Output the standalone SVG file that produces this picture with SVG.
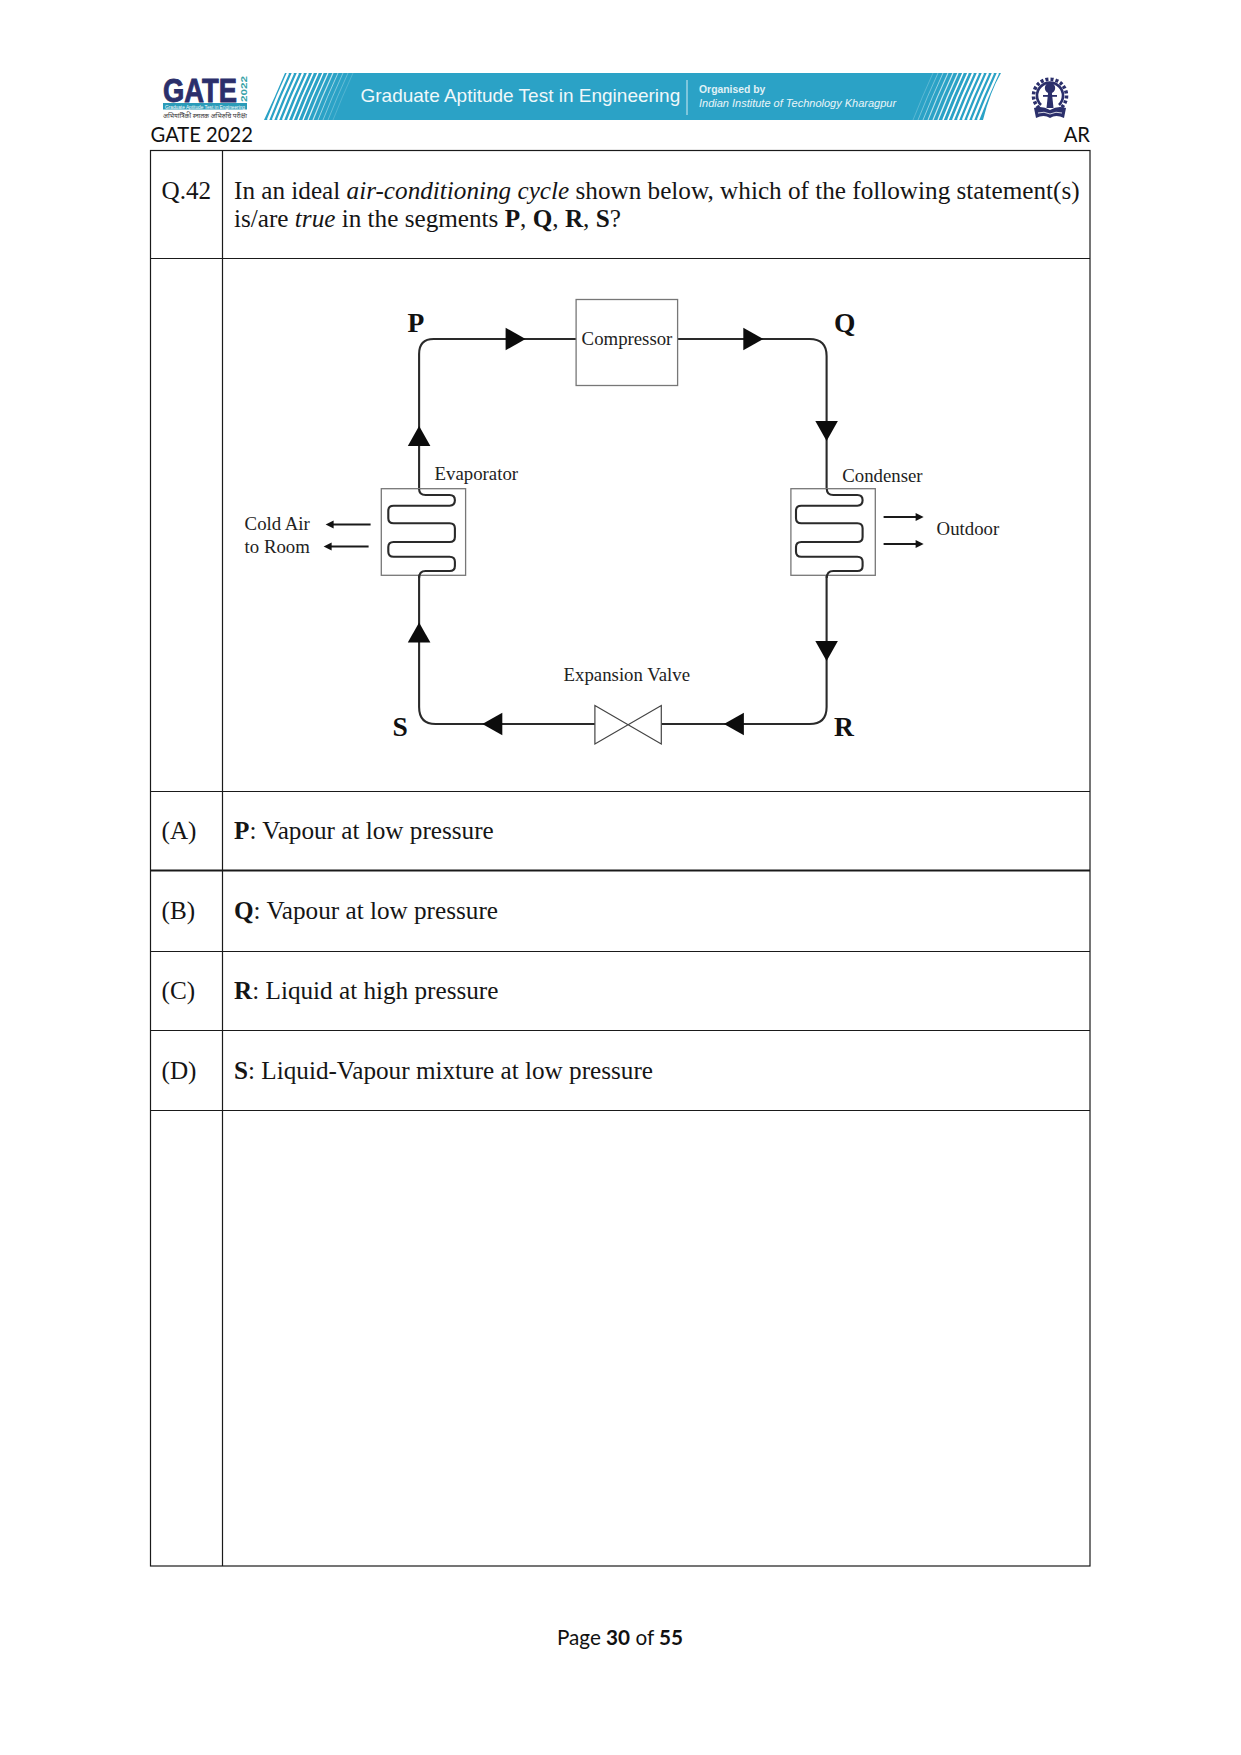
<svg xmlns="http://www.w3.org/2000/svg" width="1241" height="1755" viewBox="0 0 1241 1755">
<style>
text{font-family:"Liberation Serif","Times New Roman",serif;fill:#151515}
.q{font-size:25.2px}
.d{font-size:18.8px;fill:#222}
.l{font-size:27.5px;font-weight:bold;fill:#111}
.c{font-family:Lato,"Open Sans",sans-serif;fill:#111}
.b{font-weight:bold}
.i{font-style:italic}
text.ba{font-family:"Liberation Sans",Arial,sans-serif;fill:#fff}
text.gate{font-family:"Liberation Sans",Arial,sans-serif;font-weight:bold;fill:#2b2f6b;stroke:#2b2f6b;stroke-width:.9}
text.yr{font-family:"Liberation Sans",Arial,sans-serif;font-weight:bold;fill:#37a3a8}
text.hi{font-family:"Noto Sans","DejaVu Sans",sans-serif;fill:#333}
.grid{stroke:#1a1a1a;stroke-width:1.2;fill:none}
.pipe{fill:none;stroke:#2a2a2a;stroke-width:2.1}
.box{fill:#fff;stroke:#777;stroke-width:1.3}
.air{fill:none;stroke:#1a1a1a;stroke-width:2.2}
.st{fill:none;stroke:#fff}
.nv{fill:#2b2f6b}
</style>
<defs>
<polygon id="tri" points="-10,-11.3 10,0 -10,11.3" fill="#0c0c0c"/>
<polygon id="tip" points="-8,-4 0,0 -8,4" fill="#111"/>
<path id="coil" class="pipe" d="M418.5 489q0 6 6.5 6H449q5.3 0 5.3 5.3t-5.3 5.4H393q-5.3 0-5.3 5v7.6q0 5 5.3 5H449q5.3 0 5.3 5v8.7q0 5-5.3 5H393q-5.3 0-5.3 5v4.7q0 5 5.3 5H449q5.3 0 5.3 5v4.3q0 5-5.3 5H425q-6.5 0-6.5 7"/>
</defs>
<rect width="1241" height="1755" fill="#fff"/>

<g id="banner">
<path d="M285 73H1001Q990 92 983 120H264Q275 97 285 73Z" fill="#2ba2c6"/>
<g class="st">
<path d="M288 73Q277 97 268 120" stroke-width="2.4"/>
<path d="M293 73Q282 97 273 120" stroke-width="2.4"/>
<path d="M298 73Q287 97 278 120" stroke-width="2.2"/>
<path d="M303 73Q292 97 283 120" stroke-width="2.2"/>
<path d="M308 73Q297 97 288 120" stroke-width="2"/>
<path d="M313 73Q302 97 293 120" stroke-width="1.8"/>
<path d="M318 73Q307 97 298 120" stroke-width="1.6"/>
<path d="M323 73Q312 97 303 120" stroke-width="1.4"/>
<path d="M328 73Q317 97 308 120" stroke-width="1.3" opacity=".85"/>
<path d="M333 73Q322 97 313 120" stroke-width="1.2" opacity=".7"/>
<path d="M338 73Q327 97 318 120" stroke-width="1" opacity=".55"/>
<path d="M343 73Q332 97 323 120" stroke-width="1" opacity=".4"/>
<path d="M348 73Q337 97 328 120" stroke-width="1" opacity=".28"/>
<path d="M353 73Q342 97 333 120" stroke-width="1" opacity=".18"/>
<path d="M933 73Q922 97 913 120" stroke-width="1" opacity=".22"/>
<path d="M938 73Q927 97 918 120" stroke-width="1" opacity=".35"/>
<path d="M943 73Q932 97 923 120" stroke-width="1" opacity=".5"/>
<path d="M948 73Q937 97 928 120" stroke-width="1.1" opacity=".65"/>
<path d="M953 73Q942 97 933 120" stroke-width="1.2" opacity=".75"/>
<path d="M958 73Q947 97 938 120" stroke-width="1.4" opacity=".85"/>
<path d="M963 73Q952 97 943 120" stroke-width="1.6"/>
<path d="M968 73Q957 97 948 120" stroke-width="1.8"/>
<path d="M973 73Q962 97 953 120" stroke-width="2"/>
<path d="M978 73Q967 97 958 120" stroke-width="2.2"/>
<path d="M983 73Q972 97 963 120" stroke-width="2.3"/>
<path d="M988 73Q977 97 968 120" stroke-width="2.3"/>
<path d="M993 73Q982 97 973 120" stroke-width="2.3"/>
<path d="M998 73Q987 97 978 120" stroke-width="2.3"/>
</g>
<text class="ba" x="360.5" y="102" font-size="19" opacity=".93">Graduate Aptitude Test in Engineering</text>
<line x1="687" y1="80" x2="687" y2="115" stroke="#fff" stroke-width="1" opacity=".8"/>
<text class="ba" x="699" y="92.5" font-size="10.4" font-weight="bold" opacity=".85">Organised by</text>
<text class="ba i" x="699" y="106.5" font-size="11" opacity=".9">Indian Institute of Technology Kharagpur</text>
</g>

<g id="gate-logo">
<text class="gate" x="163" y="102" font-size="34" textLength="74" lengthAdjust="spacingAndGlyphs">GATE</text>
<text class="yr" transform="translate(247 102) rotate(-90)" font-size="9.5" textLength="26" lengthAdjust="spacingAndGlyphs">2022</text>
<rect x="163" y="103" width="84" height="6.5" fill="#2a9bb8"/>
<text class="ba" x="165" y="108.5" font-size="6" textLength="80" lengthAdjust="spacingAndGlyphs">Graduate Aptitude Test in Engineering</text>
<text class="hi" x="163" y="118" font-size="6.5" textLength="84" lengthAdjust="spacingAndGlyphs">अभियांत्रिकी स्नातक अभिरुचि परीक्षा</text>
</g>

<g id="iit-logo">
<path d="M1039 108A16.5 16.5 0 1 1 1061 108" fill="none" stroke="#2b2f6b" stroke-width="3.6" stroke-dasharray="3 2"/>
<path d="M1041 105A13 13 0 1 1 1059 105" fill="none" stroke="#2b2f6b" stroke-width="2.6"/>
<circle class="nv" cx="1050" cy="88" r="5.2"/>
<path class="nv" d="M1048.6 88H1051.4L1053.5 108H1046.5Z"/>
<path class="nv" d="M1043 95H1057V96.8H1043Z"/>
<path class="nv" d="M1034 108Q1042 105 1050 110Q1058 105 1066 108L1064 118Q1056 114 1050 118Q1044 114 1036 118Z"/>
<path d="M1038 113Q1044 111 1050 114Q1056 111 1062 113" fill="none" stroke="#fff" stroke-width=".8"/>
</g>

<g id="page-header">
<text class="c" font-size="20.2" x="150.5" y="142">GATE 2022</text>
<text class="c" font-size="20.2" x="1090" y="142" text-anchor="end">AR</text>
</g>

<g id="table">
<rect class="grid" x="150.5" y="150.5" width="939.5" height="1415.5"/>
<line class="grid" x1="222.5" y1="150.5" x2="222.5" y2="1566"/>
<line class="grid" x1="150.5" y1="258.5" x2="1090" y2="258.5"/>
<line class="grid" x1="150.5" y1="791.5" x2="1090" y2="791.5"/>
<line class="grid" x1="150.5" y1="870.5" x2="1090" y2="870.5" style="stroke-width:2"/>
<line class="grid" x1="150.5" y1="951.5" x2="1090" y2="951.5"/>
<line class="grid" x1="150.5" y1="1030.5" x2="1090" y2="1030.5"/>
<line class="grid" x1="150.5" y1="1110.5" x2="1090" y2="1110.5"/>
</g>

<g id="question">
<text class="q" x="161.5" y="199">Q.42</text>
<text class="q" x="234" y="199">In an ideal <tspan class="i">air-conditioning cycle</tspan> shown below, which of the following statement(s)</text>
<text class="q" x="234" y="227">is/are <tspan class="i">true</tspan> in the segments <tspan class="b">P</tspan>, <tspan class="b">Q</tspan>, <tspan class="b">R</tspan>, <tspan class="b">S</tspan>?</text>
</g>

<g id="diagram" transform="translate(0.6 0)">
<g id="connectors">
<path class="pipe" d="M418.5 490V354Q418.5 339 433 339H575.5"/>
<path class="pipe" d="M677 339H809Q826 339 826 356V490"/>
<path class="pipe" d="M826 575V707Q826 724 809 724H660.7"/>
<path class="pipe" d="M594.3 724H435Q418.5 724 418.5 707V575"/>
<use href="#tri" transform="translate(515 339)"/>
<use href="#tri" transform="translate(752.7 339)"/>
<use href="#tri" transform="translate(826 431) rotate(90)"/>
<use href="#tri" transform="translate(826 651) rotate(90)"/>
<use href="#tri" transform="translate(733.3 724) rotate(180)"/>
<use href="#tri" transform="translate(491.7 724) rotate(180)"/>
<use href="#tri" transform="translate(418.5 632.5) rotate(-90)"/>
<use href="#tri" transform="translate(418.5 436) rotate(-90)"/>
<path class="air" d="M370 524.5H331M368 546.5H329M883 517H917M883 544H917"/>
<use href="#tip" transform="translate(325 524.5) rotate(180)"/>
<use href="#tip" transform="translate(323 546.5) rotate(180)"/>
<use href="#tip" transform="translate(923 517)"/>
<use href="#tip" transform="translate(923 544)"/>
</g>

<g id="compressor">
<rect class="box" x="575.5" y="299.5" width="101.5" height="86"/>
<text class="d" x="581" y="345">Compressor</text>
</g>
<g id="evaporator">
<rect class="box" x="380.7" y="488.7" width="84.3" height="86.6"/>
<use href="#coil"/>
<text class="d" x="434" y="480">Evaporator</text>
</g>
<g id="condenser">
<rect class="box" x="790.3" y="488.7" width="84.4" height="86.6"/>
<use href="#coil" x="407.7"/>
<text class="d" x="841.7" y="481.5">Condenser</text>
</g>
<g id="expansion-valve">
<path d="M594.3 705.5L660.7 744V705.5L594.3 744Z" fill="#fff" stroke="#444" stroke-width="1.2"/>
<text class="d" x="563" y="680.5">Expansion Valve</text>
</g>
<g id="air-labels">
<text class="d" x="244" y="530">Cold Air</text>
<text class="d" x="244" y="552.5">to Room</text>
<text class="d" x="936" y="535">Outdoor</text>
</g>
<g id="segment-labels">
<text class="l" x="407" y="332">P</text>
<text class="l" x="833.5" y="332">Q</text>
<text class="l" x="833.5" y="736">R</text>
<text class="l" x="392" y="736">S</text>
</g>
</g>

<g id="options">
<text class="q" x="161.5" y="839">(A)</text>
<text class="q" x="234" y="839"><tspan class="b">P</tspan>: Vapour at low pressure</text>
<text class="q" x="161.5" y="919">(B)</text>
<text class="q" x="234" y="919"><tspan class="b">Q</tspan>: Vapour at low pressure</text>
<text class="q" x="161.5" y="998.5">(C)</text>
<text class="q" x="234" y="998.5"><tspan class="b">R</tspan>: Liquid at high pressure</text>
<text class="q" x="161.5" y="1078.5">(D)</text>
<text class="q" x="234" y="1078.5"><tspan class="b">S</tspan>: Liquid-Vapour mixture at low pressure</text>
</g>

<g id="footer">
<text class="c" font-size="20.7" x="620" y="1645" text-anchor="middle">Page <tspan class="b">30</tspan> of <tspan class="b">55</tspan></text>
</g>
</svg>
